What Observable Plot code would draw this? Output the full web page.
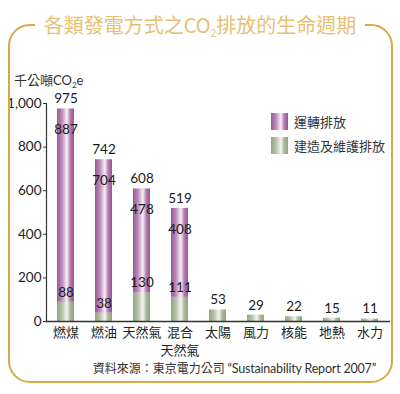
<!DOCTYPE html>
<html>
<head>
<meta charset="utf-8">
<script src="https://cdn.jsdelivr.net/npm/d3@7"></script>
<script src="https://cdn.jsdelivr.net/npm/@observablehq/plot@0.6"></script>
<style>
  html, body { margin: 0; padding: 0; background: #fff; }
  #wrap { position: relative; width: 400px; height: 394px; overflow: hidden; font-family: "Lato", "Noto Sans CJK TC", sans-serif; color: #222; }
  #chart { position: absolute; left: 0; top: 0; }
  .frame { position: absolute; left: 8px; top: 24px; width: 385px; height: 359px; box-sizing: border-box; border: 2px solid #d8aa45; border-radius: 22px; }
  .title { position: absolute; left: 0; top: 11px; width: 400px; text-align: center; font-family: "Noto Sans CJK TC", sans-serif; font-size: 20px; line-height: 28px; color: #e6c174; }
  .title span { background: #fff; padding: 0 9px; }
  .title sub { font-size: 10px; vertical-align: -4px; line-height: 0; }
  .unit { position: absolute; left: 14px; top: 70px; font-family: "Lato", "Noto Sans CJK TC", sans-serif; font-size: 13px; color: #333; }
  .unit sub { font-size: 8px; vertical-align: -3px; line-height: 0; }
  .legend { position: absolute; left: 271px; top: 113px; font-family: "Noto Sans CJK TC", sans-serif; font-size: 13px; color: #333; }
  .legend .row { display: flex; align-items: center; height: 17px; margin-bottom: 7px; }
  .legend svg { margin-right: 6px; }
  .source { position: absolute; right: 24px; top: 361px; line-height: 13px; font-family: "Noto Sans CJK TC", sans-serif; font-size: 12px; color: #333; white-space: nowrap; }
  .source .en { font-family: "Lato", sans-serif; letter-spacing: -0.2px; font-size: 12.5px; }
</style>
</head>
<body>
<div id="wrap">
  <div id="chart"></div>
  <div class="frame"></div>
  <div class="title"><span>各類發電方式之CO<sub>2</sub>排放的生命週期</span></div>
  <div class="unit">千公噸CO<sub>2</sub>e</div>
  <div class="legend" id="legend"></div>
  <div class="source">資料來源：東京電力公司 <span class="en">“Sustainability Report 2007”</span></div>
</div>
<script>
const categories = ["燃煤", "燃油", "天然氣", "混合天然氣", "太陽", "風力", "核能", "地熱", "水力"];
const categoryLabels = ["燃煤", "燃油", "天然氣", "混合\n天然氣", "太陽", "風力", "核能", "地熱", "水力"];
const operation = [887, 704, 478, 408, 0, 0, 0, 0, 0];
const construction = [88, 38, 130, 111, 53, 29, 22, 15, 11];
const yTicks = [0, 200, 400, 600, 800, 1000];
const seriesNames = ["運轉排放", "建造及維護排放"];

const rows = categories.map((c, i) => ({
  cat: c,
  op: operation[i],
  build: construction[i],
  total: operation[i] + construction[i]
}));
const stacked = rows.filter(d => d.op > 0);

const gradDefs = `
  <linearGradient id="gPurple" x1="0" x2="1" y1="0" y2="0">
    <stop offset="0" stop-color="#9a5797"/>
    <stop offset="0.3" stop-color="#be8cbb"/>
    <stop offset="0.58" stop-color="#f8f1f7"/>
    <stop offset="0.78" stop-color="#b27cae"/>
    <stop offset="1" stop-color="#985695"/>
  </linearGradient>
  <linearGradient id="gGreen" x1="0" x2="1" y1="0" y2="0">
    <stop offset="0" stop-color="#94a482"/>
    <stop offset="0.3" stop-color="#b8c3aa"/>
    <stop offset="0.58" stop-color="#f4f6ef"/>
    <stop offset="0.78" stop-color="#acb89c"/>
    <stop offset="1" stop-color="#92a280"/>
  </linearGradient>`;

const labelMap = new Map(categories.map((c, i) => [c, categoryLabels[i]]));

const chart = Plot.plot({
  width: 400,
  height: 394,
  marginLeft: 46,
  marginRight: 10,
  marginTop: 103,
  marginBottom: 73,
  style: { fontFamily: "Lato, 'Noto Sans CJK TC', sans-serif", fontSize: "13px", color: "#222", background: "transparent" },
  x: { type: "band", domain: categories, paddingInner: 0.55, paddingOuter: 0.24, label: null },
  y: { domain: [0, 1000], label: null },
  marks: [
    Plot.barY(rows, { x: "cat", y1: 0, y2: "build", fill: "url(#gGreen)" }),
    Plot.barY(stacked, { x: "cat", y1: "build", y2: "total", fill: "url(#gPurple)" }),
    Plot.frame({ anchor: "left", stroke: "#333", strokeWidth: 1.2 }),
    Plot.ruleY([0], { stroke: "#333", strokeWidth: 1.5 }),
    Plot.axisY({ ticks: yTicks, tickFormat: d3.format(","), tickSize: 3, tickPadding: 2, stroke: "#333", fontSize: 13.5, label: null }),
    Plot.axisX({ tickSize: 0, tickPadding: 2, tickFormat: d => labelMap.get(d), fontSize: 13, lineHeight: 1.42, fontFamily: "'Noto Sans CJK TC', sans-serif", label: null }),
    Plot.text(rows, { x: "cat", y: "build", text: d => String(d.build), dy: -10, fontSize: 13.5, fill: "#1a1a1a" }),
    Plot.text(stacked, { x: "cat", y: "total", text: d => String(d.op), dy: 21, fontSize: 13.5, fill: "#1a1a1a" }),
    Plot.text(stacked, { x: "cat", y: "total", text: d => String(d.total), dy: -10, fontSize: 13.5, fill: "#1a1a1a" })
  ]
});
d3.select(chart).insert("defs", ":first-child").html(gradDefs);
document.getElementById("chart").appendChild(chart);

// legend
const legend = d3.select("#legend");
const legendFills = ["url(#lPurple)", "url(#lGreen)"];
seriesNames.forEach((name, i) => {
  const row = legend.append("div").attr("class", "row");
  const sw = row.append("svg").attr("width", 17).attr("height", 17);
  sw.append("defs").html(gradDefs.replace('id="gPurple"', 'id="lPurple"').replace('id="gGreen"', 'id="lGreen"'));
  sw.append("rect").attr("width", 17).attr("height", 17).attr("fill", legendFills[i]);
  row.append("span").text(name);
});
</script>
</body>
</html>
